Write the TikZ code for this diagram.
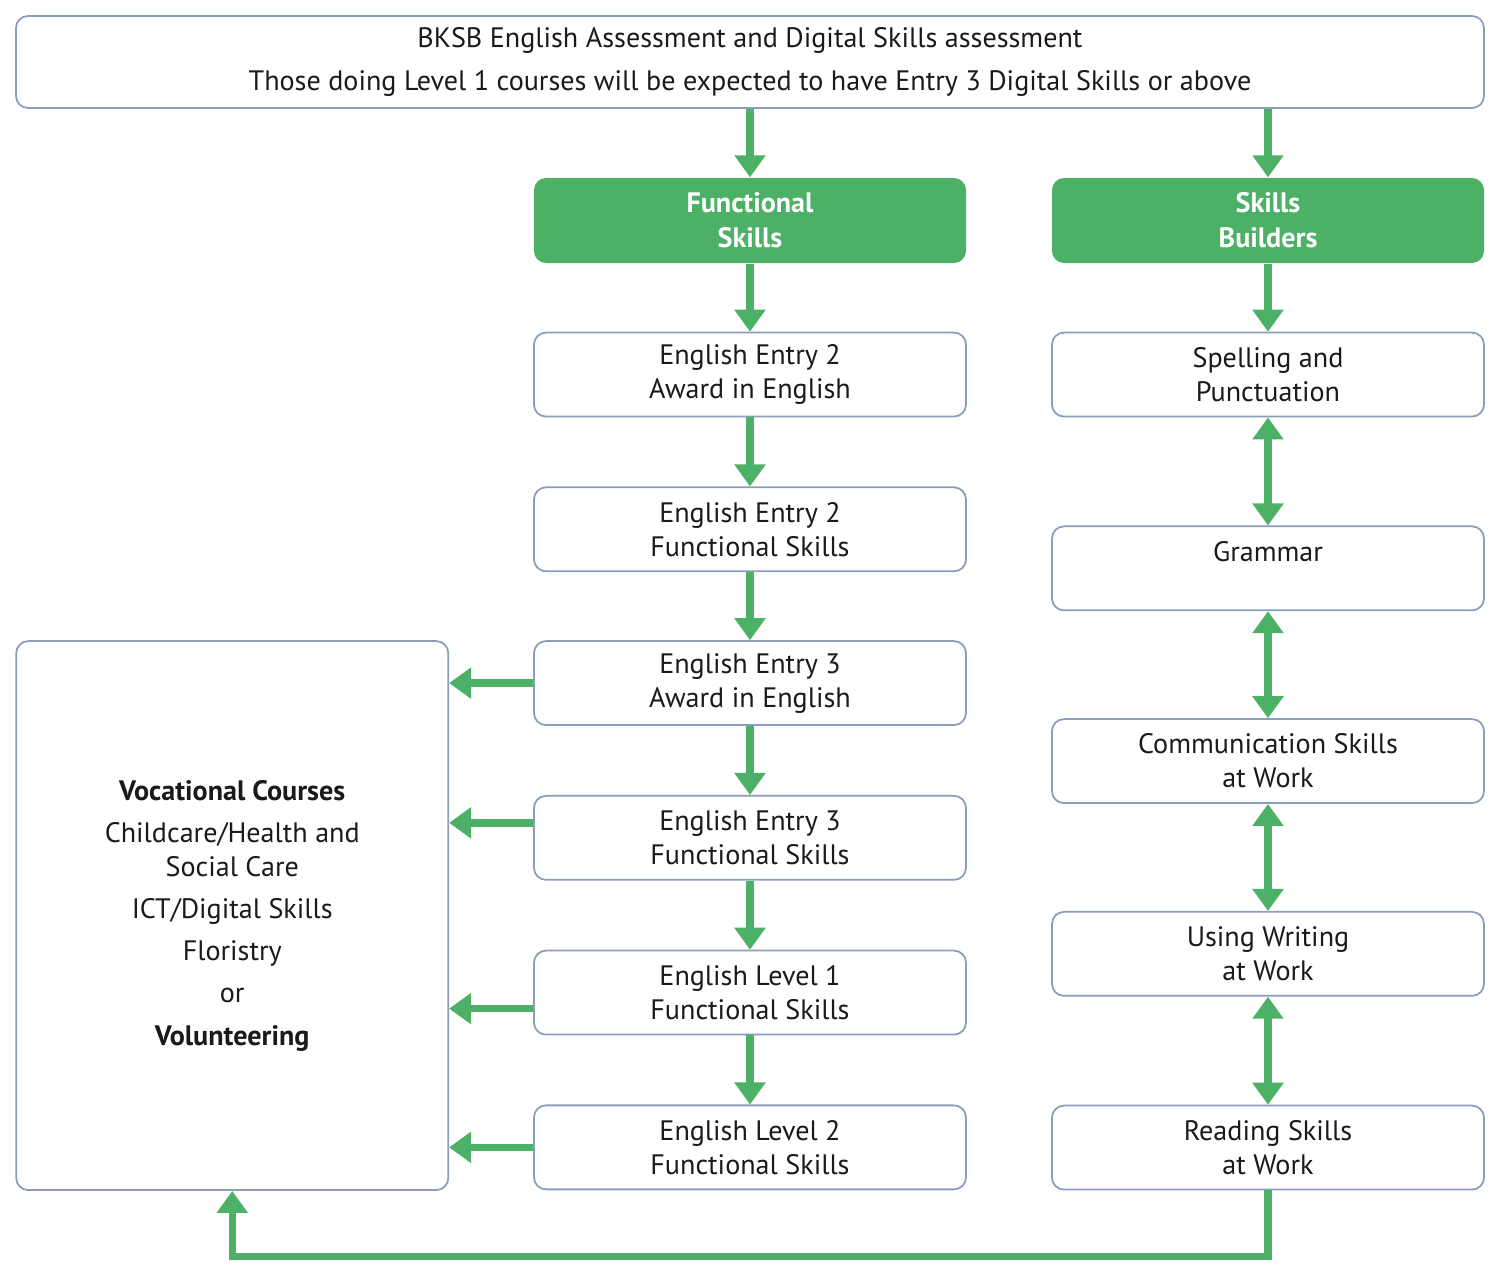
\documentclass[tikz,border=0pt]{standalone}
\usepackage{fontspec}
\setmainfont{PT Sans}
\usepackage{tikz}
\usetikzlibrary{arrows.meta,positioning,calc}
\definecolor{leaf}{HTML}{4CB066}
\definecolor{slate}{HTML}{8A9DBA}
\definecolor{ink}{HTML}{1A1A1A}
\tikzset{
  stagebox/.style={
    rectangle, rounded corners=0.12cm, draw=slate, line width=0.5pt,
    fill=white, minimum width=4.32cm, minimum height=0.84cm,
    font=\fontsize{8}{9.7}\selectfont, text=ink, align=center,
    inner sep=2pt
  },
  headbox/.style={
    rectangle, rounded corners=0.12cm, fill=leaf, draw=none,
    minimum width=4.32cm, minimum height=0.85cm,
    font=\fontsize{8}{9.9}\selectfont\bfseries, text=white, align=center
  },
  flowarrow/.style={
    -{Triangle[length=0.22cm, width=0.3cm]}, line width=2.1pt, color=leaf
  },
  botharrow/.style={
    {Triangle[length=0.22cm, width=0.3cm]}-{Triangle[length=0.22cm, width=0.3cm]},
    line width=2.1pt, color=leaf
  },
}

\begin{document}
\begin{tikzpicture}
\useasboundingbox (0,0) rectangle (15,-12.76);
\node[stagebox, minimum width=14.68cm, minimum height=0.92cm] at (7.5,-0.62) (top)
  {BKSB English Assessment and Digital Skills assessment\\[2.3pt]
   Those doing Level 1 courses will be expected to have Entry 3 Digital Skills or above};
\node[headbox] at (7.5,-2.205) (fs) {Functional\\ Skills};
\node[headbox] at (12.68,-2.205) (sb) {Skills\\ Builders};
% functional skills column
\node[stagebox, below=0.68cm of fs] (e2a) {English Entry 2\\ Award in English};
\node[stagebox, below=0.69cm of e2a] (e2f) {English Entry 2\\ Functional Skills};
\node[stagebox, below=0.68cm of e2f] (e3a) {English Entry 3\\ Award in English};
\node[stagebox, below=0.69cm of e3a] (e3f) {English Entry 3\\ Functional Skills};
\node[stagebox, below=0.69cm of e3f] (l1) {English Level 1\\ Functional Skills};
\node[stagebox, below=0.69cm of l1] (l2) {English Level 2\\ Functional Skills};
% skills builders column
\node[stagebox, below=0.68cm of sb] (spell) {Spelling and\\ Punctuation};
\node[stagebox, below=1.08cm of spell] (gram) {Grammar\\ ~};
\node[stagebox, below=1.07cm of gram] (comm) {Communication Skills\\ at Work};
\node[stagebox, below=1.07cm of comm] (write) {Using Writing\\ at Work};
\node[stagebox, below=1.08cm of write] (read) {Reading Skills\\ at Work};
% vocational box
\node[stagebox, minimum height=5.49cm, left=0.84cm of e3a.north west, anchor=north east] (voc)
  {\textbf{Vocational Courses}\\[2.3pt]
   Childcare/Health and\\ Social Care\\[2.3pt]
   ICT/Digital Skills\\[2.3pt]
   Floristry\\[2.3pt]
   or\\[2.3pt]
   \textbf{Volunteering}};
\coordinate (e3fout) at ([yshift=0.15cm]e3f.west);
\coordinate (l1out) at ([yshift=-0.16cm]l1.west);
\draw[flowarrow] (top.south -| fs) -- (fs);
\draw[flowarrow] (top.south -| sb) -- (sb);
\draw[flowarrow] (fs) -- (e2a);
\draw[flowarrow] (e2a) -- (e2f);
\draw[flowarrow] (e2f) -- (e3a);
\draw[flowarrow] (e3a) -- (e3f);
\draw[flowarrow] (e3f) -- (l1);
\draw[flowarrow] (l1) -- (l2);
\draw[flowarrow] (sb) -- (spell);
\draw[botharrow] (spell) -- (gram);
\draw[botharrow] (gram) -- (comm);
\draw[botharrow] (comm) -- (write);
\draw[botharrow] (write) -- (read);
\draw[flowarrow] (e3a.west) -- (voc.east |- e3a.west);
\draw[flowarrow] (e3fout) -- (voc.east |- e3fout);
\draw[flowarrow] (l1out) -- (voc.east |- l1out);
\draw[flowarrow] (l2.west) -- (voc.east |- l2.west);
\draw[flowarrow] (read.south) -- ++(0,-0.66) -| (voc.south);
\end{tikzpicture}
\end{document}
